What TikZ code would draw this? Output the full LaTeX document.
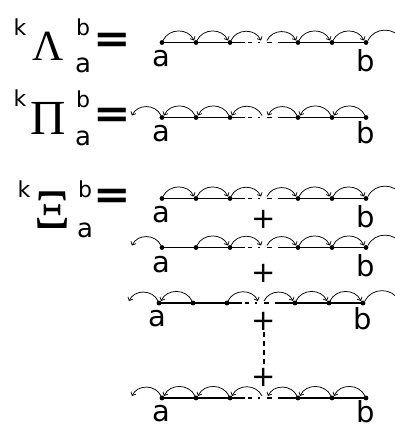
\documentclass[tikz,border=0pt]{standalone}
\usepackage{fontspec}
\setmainfont{DejaVu Sans}
\newfontfamily\grk{Liberation Serif}
\usetikzlibrary{arrows.meta}
\tikzset{
  dotnode/.style={circle,fill=black,inner sep=0pt,minimum size=4.8pt},
  mainline/.style={line width=1.3pt},
  gapdash/.style={dash pattern=on 4pt off 6pt on 2pt off 7pt on 5pt off 10pt},
  arcline/.style={line width=0.75pt,-{Straight Barb[length=2.8pt,width=5.5pt]}},
  openarc/.style={line width=0.75pt},
  arcshape/.style={out=65,in=115,looseness=1.15},
  arcback/.style={out=115,in=65,looseness=1.15},
  lbl/.style={font=\fontsize{29}{29}\selectfont,inner sep=0pt,anchor=base},
  plusnode/.style={font=\fontsize{29}{29}\selectfont,inner sep=0pt},
  supnode/.style={font=\fontsize{22}{22}\selectfont,inner sep=0pt,anchor=base},
  subnode/.style={font=\fontsize{26}{26}\selectfont,inner sep=0pt,anchor=base},
  eqnode/.style={font=\fontsize{40}{40}\selectfont\bfseries,inner sep=0pt,xscale=1.12},
  bignode/.style={inner sep=0pt,anchor=base}
}
\newcommand\mkrow[3]{%
  \begin{scope}[xshift=#2pt]
  \foreach \i/\x in {1/162,2/196,3/230,4/298,5/332,6/366} {\node[dotnode] (#1d\i) at (\x,-#3) {};}
  \coordinate (#1s1) at (245,-#3);
  \coordinate (#1s2) at (248,-#3);
  \coordinate (#1s3) at (272,-#3);
  \coordinate (#1s4) at (278,-#3);
  \coordinate (#1g1) at (263,-#3);
  \coordinate (#1g2) at (266,-#3);
  \coordinate (#1L) at (130,-#3);
  \coordinate (#1R) at (402,-#3);
  \end{scope}
  \draw[mainline] (#1d1.center) -- (#1s1);
  \draw[mainline,gapdash] (#1s2) -- (#1s3);
  \draw[mainline] (#1s4) -- (#1d6.center);
}
\newcommand\fw[2]{\draw[arcline] ([shift={(1,2)}]#1) to[arcshape] ([shift={(-2,2)}]#2);}
\newcommand\bw[2]{\draw[arcline] ([shift={(-1,2)}]#1) to[arcback] ([shift={(2,2)}]#2);}
\newcommand\op[2]{\draw[openarc] ([shift={(2,2)}]#1) to[arcshape] ([shift={(0,2)}]#2);}
\begin{document}
\begin{tikzpicture}[x=1pt,y=1pt]
\useasboundingbox (0,0) rectangle (395,-429);
% left formulas
\node[supnode] (k1) at (20,-35) {k};
\node[bignode,font=\fontsize{43}{43}\selectfont\grk] (L1) at (48,-60) {Λ};
\node[supnode] (b1) at (83,-35) {b};
\node[subnode] (a1) at (83,-72) {a};
\node[eqnode] (e1) at (112.5,-43) {=};

\node[supnode] (k2) at (20,-106) {k};
\node[bignode,font=\fontsize{49}{49}\selectfont\grk] (L2) at (48,-134) {Π};
\node[supnode] (b2) at (83,-107) {b};
\node[subnode] (a2) at (83,-145) {a};
\node[eqnode] (e2) at (112.5,-117.5) {=};

\node[supnode] (k3) at (24,-197) {k};
\node[bignode,font=\fontsize{56}{56}\selectfont\grk] (L3) at (53,-228) {Ξ};
\node[supnode] (b3) at (85,-197) {b};
\node[subnode] (a3) at (85,-237) {a};
\node[eqnode] (e3) at (112.5,-199) {=};

% row 1
\mkrow{r1}{0}{42.5}
\fw{r1d1.center}{r1d2.center}\fw{r1d2.center}{r1d3.center}\fw{r1d3.center}{r1g1}
\fw{r1g2}{r1d4.center}\fw{r1d4.center}{r1d5.center}\fw{r1d5.center}{r1d6.center}
\op{r1d6.center}{r1R}
\node[lbl] (r1a) at (161,-66) {a};
\node[lbl] (r1b) at (366,-71) {b};
% row 2
\mkrow{r2}{0}{117.5}
\bw{r2d1.center}{r2L}\bw{r2d2.center}{r2d1.center}\bw{r2d3.center}{r2d2.center}
\bw{r2g1}{r2d3.center}\bw{r2d4.center}{r2g2}\bw{r2d5.center}{r2d4.center}\bw{r2d6.center}{r2d5.center}
\node[lbl] (r2a) at (161,-141) {a};
\node[lbl] (r2b) at (366,-143) {b};
% row 3
\mkrow{r3}{0}{198.5}
\fw{r3d1.center}{r3d2.center}\fw{r3d2.center}{r3d3.center}\fw{r3d3.center}{r3g1}
\fw{r3g2}{r3d4.center}\fw{r3d4.center}{r3d5.center}\fw{r3d5.center}{r3d6.center}
\op{r3d6.center}{r3R}
\node[lbl] (r3a) at (161,-222) {a};
\node[lbl] (r3b) at (366,-227) {b};
\node[plusnode] (p1) at (264,-219) {+};
% row 4
\mkrow{r4}{0}{247.5}
\bw{r4d1.center}{r4L}
\fw{r4d2.center}{r4d3.center}\fw{r4d3.center}{r4g1}
\fw{r4g2}{r4d4.center}\fw{r4d4.center}{r4d5.center}\fw{r4d5.center}{r4d6.center}
\op{r4d6.center}{r4R}
\node[lbl] (r4a) at (161,-272) {a};
\node[lbl] (r4b) at (366,-276) {b};
\node[plusnode] (p2) at (264,-273) {+};
% row 5
\mkrow{r5}{-3}{303}
\bw{r5d1.center}{r5L}\bw{r5d2.center}{r5d1.center}
\fw{r5d3.center}{r5g1}
\fw{r5g2}{r5d4.center}\fw{r5d4.center}{r5d5.center}\fw{r5d5.center}{r5d6.center}
\op{r5d6.center}{r5R}
\node[lbl] (r5a) at (157,-326) {a};
\node[lbl] (r5b) at (363,-329) {b};
\node[plusnode] (p3) at (264,-321) {+};
\node[plusnode] (p4) at (264,-377) {+};
\draw[line width=1.3pt,dash pattern=on 5pt off 4pt,shorten <=2pt,shorten >=2pt] (p3) -- (p4);
% row 6
\mkrow{r6}{0}{398}
\bw{r6d1.center}{r6L}\bw{r6d2.center}{r6d1.center}\bw{r6d3.center}{r6d2.center}
\bw{r6g1}{r6d3.center}\bw{r6d4.center}{r6g2}\bw{r6d5.center}{r6d4.center}\bw{r6d6.center}{r6d5.center}
\node[lbl] (r6a) at (161,-421) {a};
\node[lbl] (r6b) at (366,-422) {b};
\end{tikzpicture}
\end{document}
